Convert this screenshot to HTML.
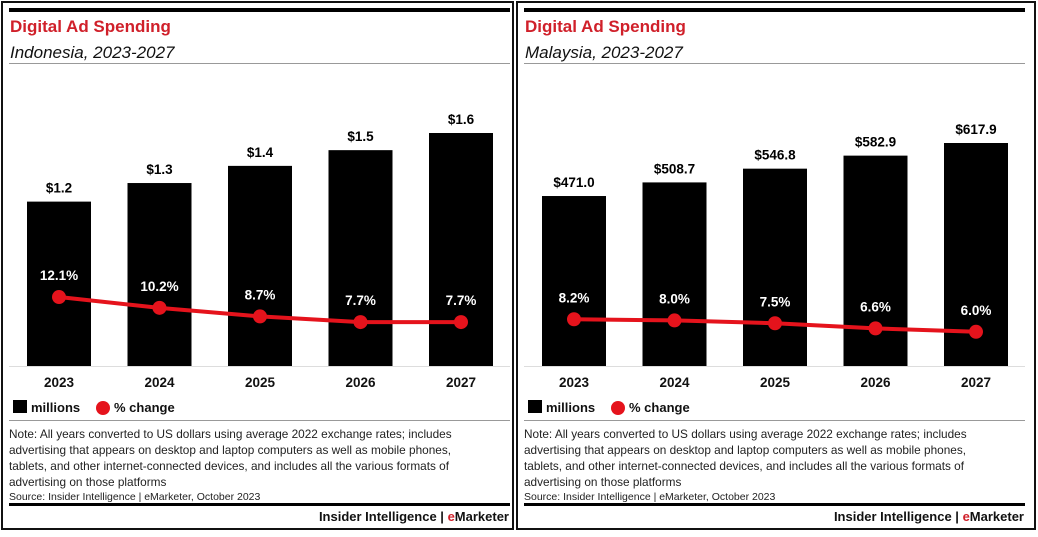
<!DOCTYPE html>
<html><head><meta charset="utf-8"><style>
body{margin:0;background:#fff;width:1038px;height:532px;overflow:hidden;font-family:"Liberation Sans",sans-serif}
svg text{font-family:"Liberation Sans","Noto Sans CJK SC",sans-serif}
</style></head><body>
<svg id="c" width="1038" height="532"></svg>
<script>
const years=["2023","2024","2025","2026","2027"];
const idSpend=[1.15,1.28,1.40,1.51,1.63];
const idSpendLabels=["$1.2","$1.3","$1.4","$1.5","$1.6"];
const idChange=[12.1,10.2,8.7,7.7,7.7];
const mySpend=[471.0,508.7,546.8,582.9,617.9];
const mySpendLabels=["$471.0","$508.7","$546.8","$582.9","$617.9"];
const myChange=[8.2,8.0,7.5,6.6,6.0];
const NS="http://www.w3.org/2000/svg";
const svg=document.getElementById('c');
function mk(t,a,p){const e=document.createElementNS(NS,t);for(const k in a)e.setAttribute(k,a[k]);(p||svg).appendChild(e);return e;}
function txt(x,y,s,a,p){const e=mk('text',Object.assign({x:x,y:y},a),p);e.textContent=s;return e;}
function panel(ox,fw,country,spend,labels,change,maxV,H,name){
  const g=mk('g',{});
  
  
  const fr=mk('rect',{x:ox+2,y:2,width:fw,height:527,fill:'none',stroke:'#111','stroke-width':2},g);
  
  mk('rect',{x:ox+9,y:8,width:501,height:4,fill:'#000'},g);
  let t=txt(ox+10,32,'Digital Ad Spending',{'font-size':17,'font-weight':'bold',fill:'#d0202a'},g);
  
  t=txt(ox+10,58,country+', 2023-2027',{'font-size':17,'font-style':'italic',fill:'#111'},g);
  
  mk('rect',{x:ox+9,y:63,width:501,height:1,fill:'#999'},g);
  const base=366;
  const xs=i=>ox+59+i*100.5;
  const ys=v=>base-v/maxV*H;
  const yc=v=>base-v*5.7;
  mk('rect',{x:ox+9,y:366,width:501,height:1,fill:'#ddd'},g);
  years.forEach((yr,i)=>{
    const b=mk('rect',{x:xs(i)-32,y:ys(spend[i]),width:64,height:base-ys(spend[i]),fill:'#000'},g);
    
    const l=txt(xs(i),ys(spend[i])-9,labels[i],{'font-size':13.5,'font-weight':'bold','text-anchor':'middle',fill:'#000'},g);
    
    const yl=txt(xs(i),387,yr,{'font-size':13.5,'font-weight':'bold','text-anchor':'middle',fill:'#111'},g);
    
  });
  const pts=change.map((v,i)=>xs(i)+','+yc(v)).join(' ');
  const pl=mk('polyline',{points:pts,fill:'none',stroke:'#e5131c','stroke-width':4,'stroke-linejoin':'round'},g);
  
  change.forEach((v,i)=>{
    const c=mk('circle',{cx:xs(i),cy:yc(v),r:7,fill:'#e5131c'},g);
    
    const l=txt(xs(i),yc(v)-17,v.toFixed(1)+'%',{'font-size':13.5,'font-weight':'bold','text-anchor':'middle',fill:'#fff'},g);
    
  });
  const lg=mk('g',{},g);
  
  mk('rect',{x:ox+13,y:400,width:14,height:13,fill:'#000'},lg);
  txt(ox+31,412,'millions',{'font-size':13,'font-weight':'bold',fill:'#111'},lg);
  mk('circle',{cx:ox+103,cy:408,r:7,fill:'#e5131c'},lg);
  txt(ox+114,412,'% change',{'font-size':13,'font-weight':'bold',fill:'#111'},lg);
  mk('rect',{x:ox+9,y:420,width:501,height:1,fill:'#999'},g);
  const notes=['Note: All years converted to US dollars using average 2022 exchange rates; includes','advertising that appears on desktop and laptop computers as well as mobile phones,','tablets, and other internet-connected devices, and includes all the various formats of','advertising on those platforms'];
  notes.forEach((n,i)=>{const e=txt(ox+9,438+i*16,n,{'font-size':11.8,fill:'#222'},g);});
  t=txt(ox+9,500,'Source: Insider Intelligence | eMarketer, October 2023',{'font-size':10.5,fill:'#222'},g);
  
  mk('rect',{x:ox+9,y:503,width:501,height:3,fill:'#000'},g);
  t=txt(ox+509,521,'',{'font-size':13,'font-weight':'bold','text-anchor':'end',fill:'#111'},g);
  
  t.innerHTML='Insider Intelligence | <tspan fill="#d0202a">e</tspan>Marketer';
}
panel(0,511,'Indonesia',idSpend,idSpendLabels,idChange,1.63,233,'indonesia-panel');
panel(515,518,'Malaysia',mySpend,mySpendLabels,myChange,617.9,223,'malaysia-panel');
</script>
</body></html>
